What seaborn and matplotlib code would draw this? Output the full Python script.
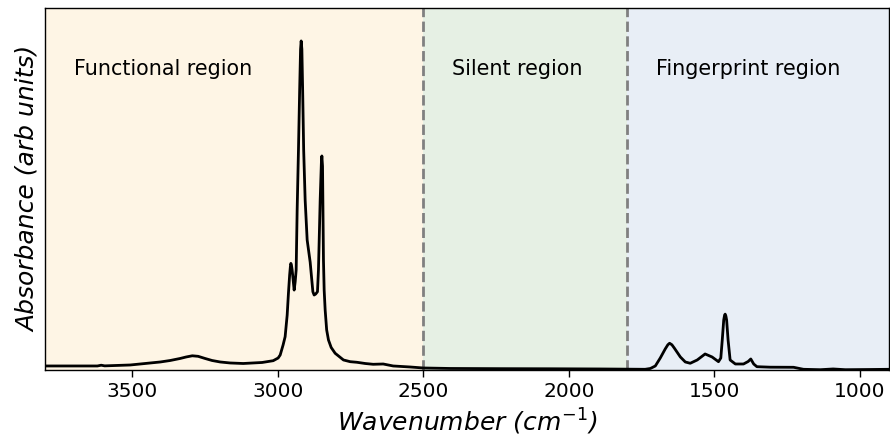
import numpy as np
import pandas as pd
import matplotlib
matplotlib.use("Agg")
import matplotlib.pyplot as plt
import seaborn as sns

# Spectrum (wavenumber in cm^-1, normalised absorbance)
wavenumber = [3800, 3679, 3620, 3607, 3595, 3507, 3404, 3370, 3336, 3315,
              3294, 3274, 3250, 3226, 3198, 3164, 3119, 3054, 3016, 2999,
              2992, 2982, 2975, 2968, 2963.6, 2959.5, 2957, 2955.3, 2953,
              2950.9, 2944, 2940.5, 2937.1, 2933.7, 2929.2, 2925.1, 2922,
              2919.9, 2917.5, 2914.8, 2911.3, 2906.2, 2899.3, 2889, 2879.7,
              2875.3, 2870.1, 2863.9, 2860.5, 2854.6, 2850.5, 2848.8, 2846.5,
              2843.3, 2840.9, 2837.5, 2832.3, 2826.1, 2816.8, 2803.1, 2774.6,
              2751.5, 2728.5, 2700, 2672.5, 2638.1, 2603.8, 2545.4, 2500.7,
              2408, 2236, 2064, 1892, 1738, 1720, 1703, 1686, 1669, 1660,
              1654, 1646, 1638, 1617, 1600, 1583, 1559, 1532, 1508, 1486,
              1478, 1473, 1468, 1465, 1463, 1460.5, 1458, 1453, 1446, 1428,
              1400, 1384, 1375, 1365, 1354, 1308, 1228, 1194, 1136, 1092,
              1050, 965, 899]
absorbance = [0.0137, 0.0137, 0.0137, 0.0160, 0.0140, 0.0167, 0.0258, 0.0303,
              0.0364, 0.041, 0.0446, 0.043, 0.0364, 0.0303, 0.0258, 0.0228,
              0.0212, 0.0243, 0.0297, 0.0379, 0.047, 0.0774, 0.1026, 0.168,
              0.235, 0.29, 0.315, 0.325, 0.318, 0.305, 0.244, 0.269, 0.305,
              0.487, 0.669, 0.851, 0.975, 1.0, 0.975, 0.851, 0.669, 0.517,
              0.396, 0.329, 0.239, 0.229, 0.232, 0.239, 0.305, 0.517, 0.63,
              0.651, 0.62, 0.335, 0.244, 0.184, 0.123, 0.0926, 0.0698, 0.0522,
              0.0319, 0.0267, 0.0249, 0.0212, 0.0188, 0.0197, 0.0137, 0.0106,
              0.0076, 0.0061, 0.0055, 0.0052, 0.0046, 0.0036, 0.0061, 0.0137,
              0.0379, 0.0653, 0.078, 0.0826, 0.078, 0.0683, 0.041, 0.0258,
              0.0219, 0.0319, 0.0501, 0.041, 0.0267, 0.0379, 0.0926, 0.153,
              0.168, 0.171, 0.165, 0.153, 0.0926, 0.0319, 0.0197, 0.0197,
              0.0273, 0.0349, 0.0197, 0.0115, 0.0100, 0.0097, 0.0036, 0.0024,
              0.0046, 0.0024, 0.003, 0.0036]

region_names = ["Functional region", "Silent region", "Fingerprint region"]
region_bounds = [(3800, 2500), (2500, 1800), (1800, 900)]
region_colors = ["#FEF5E5", "#E6F0E4", "#E8EEF6"]
divider_positions = [2500, 1800]
x_ticks = [3500, 3000, 2500, 2000, 1500, 1000]

df = pd.DataFrame({"wavenumber": wavenumber, "absorbance": absorbance})

sns.set_style("ticks")
plt.rcParams["font.family"] = ["DejaVu Sans"]
plt.rcParams["text.color"] = "black"
plt.rcParams["axes.labelcolor"] = "black"
plt.rcParams["xtick.color"] = "black"

fig = plt.figure(figsize=(8.9, 4.41), dpi=100)
ax = fig.add_axes([0.0506, 0.1599, 0.9483, 0.822])

for (hi, lo), col in zip(region_bounds, region_colors):
    ax.axvspan(lo, hi, color=col, lw=0, zorder=0)
for xv in divider_positions:
    ax.axvline(xv, color="#808080", ls="--", lw=2, zorder=1)

sns.lineplot(data=df, x="wavenumber", y="absorbance", color="black", lw=2,
             ax=ax, zorder=3)

for name, (hi, lo) in zip(region_names, region_bounds):
    ax.text(hi - 100, 0.915, name, ha="left", va="center", fontsize=14.9,
            color="black", zorder=4)

ax.set_xlim(3800, 900)
ax.set_ylim(0, 1.1)
ax.set_xticks(x_ticks)
ax.set_xticklabels([str(t) for t in x_ticks], fontsize=14.5)
ax.set_yticks([])
ax.tick_params(axis="x", length=5, width=1, color="black", labelcolor="black")
for s in ax.spines.values():
    s.set_visible(True)
    s.set_color("black")
    s.set_linewidth(1)
ax.set_xlabel("Wavenumber ($cm^{-1}$)", fontsize=18, fontstyle="italic",
              color="black")
ax.set_ylabel("Absorbance (arb units)", fontsize=18, fontstyle="italic",
              color="black")

fig.savefig("out.png", dpi=100)
